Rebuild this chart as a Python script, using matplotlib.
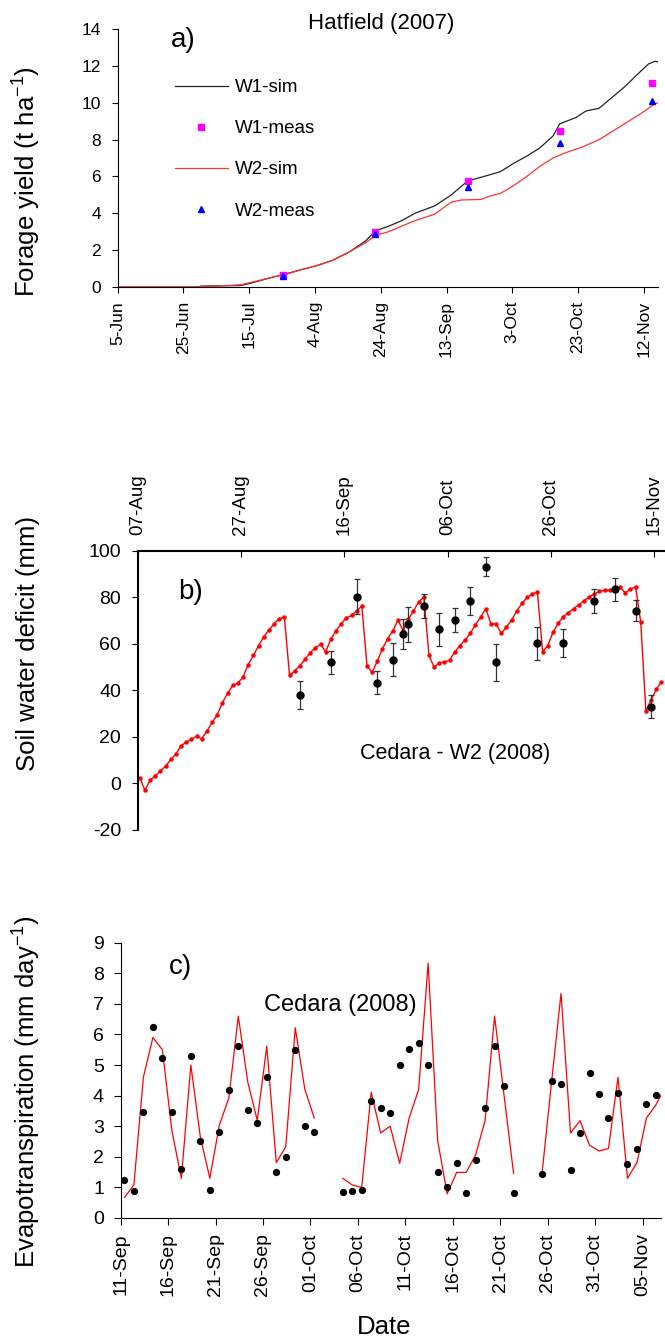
import numpy as np
import matplotlib.pyplot as plt
from matplotlib.lines import Line2D

plt.rcParams['font.family'] = ['Liberation Sans', 'DejaVu Sans']
plt.rcParams['mathtext.fontset'] = 'custom'
plt.rcParams['mathtext.rm'] = 'Liberation Sans'
plt.rcParams['axes.unicode_minus'] = False

# readings are plotted a bit after midnight of each day
DAY_OFFSET = 0.4

# a) Hatfield 2007 - days after 5 June
a_ticks = [0, 20, 40, 60, 80, 100, 120, 140, 160]
a_ticklabels = ['5-Jun', '25-Jun', '15-Jul', '4-Aug', '24-Aug', '13-Sep', '3-Oct', '23-Oct', '12-Nov']
w1_sim_day = [0, 24, 25, 37, 40, 46, 51, 55, 60, 65, 70, 75, 78, 82, 86, 90, 96, 101, 106,
              109, 113, 116, 120, 124, 128, 132, 134, 139, 142, 146, 150, 154, 158, 161, 163, 164]
w1_sim = [0, 0, 0.05, 0.08, 0.2, 0.5, 0.72, 0.92, 1.15, 1.45, 1.9, 2.5, 3.05, 3.3, 3.6, 4.0, 4.4, 4.99, 5.75,
          5.9, 6.1, 6.26, 6.71, 7.1, 7.55, 8.2, 8.85, 9.2, 9.55, 9.7, 10.3, 10.9, 11.6, 12.1, 12.25, 12.2]
w2_sim_day = [0, 24, 37, 46, 51, 55, 60, 65, 70, 75, 78, 82, 86, 90, 96, 101, 104, 110, 113, 116,
              120, 124, 128, 132, 136, 141, 146, 151, 155, 159, 163, 164]
w2_sim = [0, 0, 0.12, 0.5, 0.7, 0.92, 1.15, 1.45, 1.9, 2.4, 2.8, 3.0, 3.3, 3.6, 3.95, 4.6, 4.72, 4.75, 4.95, 5.08,
          5.5, 6.0, 6.55, 7.0, 7.3, 7.6, 8.0, 8.55, 9.0, 9.45, 9.95, 10.0]
meas_day = [50, 78, 106, 134, 162]
w1_meas = [0.65, 3.0, 5.75, 8.45, 11.05]
w2_meas = [0.6, 2.9, 5.4, 7.8, 10.1]

# b) Cedara W2 2008 soil water deficit - days after 7 Aug
b_ticks = [0, 20, 40, 60, 80, 100]
b_ticklabels = ['07-Aug', '27-Aug', '16-Sep', '06-Oct', '26-Oct', '15-Nov']
swd_sim = [2.4, -2.9, 1.4, 3.3, 5.4, 7.4, 10.3, 12.7, 16.2, 17.8,
           18.9, 20.3, 19.2, 22.5, 26.2, 29.5, 34.7, 38.7, 42.1, 43.1,
           45.8, 51.1, 55.0, 59.2, 63.0, 65.9, 68.6, 70.8, 71.5, 46.4,
           48.4, 50.6, 53.3, 56.2, 58.3, 59.7, 56.6, 62.0, 65.6, 68.6,
           71.1, 72.2, 74.2, 76.2, 50.6, 47.7, 52.6, 57.9, 62.2, 65.6,
           70.2, 65.6, 70.5, 74.2, 77.9, 80.2, 55.0, 49.9, 51.9, 52.1,
           53.0, 56.6, 59.2, 61.7, 64.5, 68.2, 71.5, 75.1, 68.6, 68.5,
           64.5, 67.2, 70.2, 74.1, 77.4, 79.9, 81.5, 82.2, 56.6, 59.2,
           64.9, 68.8, 71.6, 73.4, 75.1, 76.8, 78.5, 80.1, 81.4, 82.5,
           83.0, 83.1, 83.7, 84.2, 81.9, 83.4, 84.5, 69.3, 31.1, 35.8,
           40.4, 43.6]
swd_obs_day = [31, 37, 42, 46, 49, 51, 52, 55, 58, 61, 64, 67, 69, 77, 82, 88, 92, 96, 99]
swd_obs = [38.1, 52.1, 80.2, 43.3, 53.2, 64.2, 68.3, 76.2, 66.2, 70.2, 78.4, 93.1, 52.1, 60.2,
           60.2, 78.4, 83.4, 74.2, 33.0]
swd_err = [6, 5, 7.5, 5, 7, 6.5, 7.5, 5, 7, 5, 6, 4, 8, 7, 6, 5, 5, 4.5, 5]

# c) Cedara 2008 evapotranspiration - days after 11 Sep
c_ticks = [0, 5, 10, 15, 20, 25, 30, 35, 40, 45, 50, 55]
c_ticklabels = ['11-Sep', '16-Sep', '21-Sep', '26-Sep', '01-Oct', '06-Oct', '11-Oct', '16-Oct',
                '21-Oct', '26-Oct', '31-Oct', '05-Nov']
nan = np.nan
et_obs = [1.25, 0.87, 3.45, 6.25, 5.23, 3.45, 1.6, 5.29, 2.52, 0.9,
          2.8, 4.2, 5.63, 3.52, 3.12, 4.6, 1.5, 2.0, 5.5, 3.02,
          2.8, nan, nan, 0.85, 0.87, 0.9, 3.83, 3.61, 3.42, 5.01,
          5.51, 5.72, 5.01, 1.5, 1.0, 1.81, 0.82, 1.9, 3.61, 5.63,
          4.32, 0.82, nan, nan, 1.45, 4.48, 4.38, 1.57, 2.77, 4.73,
          4.05, 3.27, 4.08, 1.75, 2.25, 3.73, 4.02]
et_sim = [0.67, 1.08, 4.6, 5.9, 5.5, 2.86, 1.3, 5.0, 2.65, 1.3,
          3.03, 3.92, 6.6, 4.44, 3.19, 5.62, 1.81, 2.33, 6.22, 4.22,
          3.27, nan, nan, 1.3, 1.08, 1.0, 4.11, 2.78, 3.0, 1.79,
          3.27, 4.2, 8.33, 2.54, 0.79, 1.49, 1.49, 2.06, 3.19, 6.6,
          4.0, 1.46, nan, nan, 1.46, 4.44, 7.34, 2.78, 3.18, 2.38,
          2.19, 2.27, 4.6, 1.3, 1.81, 3.27, 3.7, 4.3]

W, H = 665, 1341
fig = plt.figure(figsize=(W / 100, H / 100), dpi=100)


def box(left, top, right, bottom):
    return [left / W, 1 - bottom / H, (right - left) / W, (bottom - top) / H]


def ylab(x, y, s):
    fig.text(x / W, 1 - y / H, s, rotation=90, ha='center', va='center', fontsize=18.5)


# ---- a) ----
ax = fig.add_axes(box(117.6, 29, 658, 287))
ax.plot(np.array(w1_sim_day) + DAY_OFFSET, w1_sim, color='#222222', lw=0.9)
ax.plot(np.array(w2_sim_day) + DAY_OFFSET, w2_sim, color='#ff3333', lw=0.9)
ax.plot(np.array(meas_day) + DAY_OFFSET, w1_meas, 's', color='#ff00ff', ms=5, clip_on=False)
ax.plot(np.array(meas_day) + DAY_OFFSET, w2_meas, '^', color='#0000ff', ms=5, clip_on=False)
ax.set_xlim(0, 164.3)
ax.set_ylim(0, 14)
ax.set_yticks(range(0, 15, 2))
ax.set_xticks(a_ticks)
ax.set_xticklabels(a_ticklabels, rotation=90)
for s in ['top', 'right']:
    ax.spines[s].set_visible(False)
for s in ['left', 'bottom']:
    ax.spines[s].set_linewidth(0.8)
ax.tick_params(direction='out', length=4, width=0.8, labelsize=12.5, pad=6)
ax.tick_params(axis='y', pad=8)
handles = [Line2D([], [], color='#222222', lw=0.9),
           Line2D([], [], ls='none', marker='s', color='#ff00ff', ms=4.5),
           Line2D([], [], color='#ff3333', lw=0.9),
           Line2D([], [], ls='none', marker='^', color='#0000ff', ms=4.5)]
ax.legend(handles, ['W1-sim', 'W1-meas', 'W2-sim', 'W2-meas'], loc='upper left',
          bbox_to_anchor=(175 / W, 1 - 79 / H), bbox_transform=fig.transFigure,
          frameon=False, fontsize=13.5, handlelength=2.8, handletextpad=0.4,
          labelspacing=1.28, borderpad=0, borderaxespad=0)
fig.text(381 / W, 1 - 23 / H, 'Hatfield (2007)', ha='center', va='center', fontsize=16)
fig.text(183 / W, 1 - 40 / H, 'a)', ha='center', va='center', fontsize=20)
ylab(26, 182, r'Forage yield (t ha$^{-1}$)')

# ---- b) ----
ax = fig.add_axes(box(137.7, 550.7, 665, 830))
ax.plot(np.arange(len(swd_sim)) + DAY_OFFSET, swd_sim, '-o', color='red', lw=1, ms=2.2)
ax.errorbar(np.array(swd_obs_day) + DAY_OFFSET, swd_obs, yerr=swd_err, fmt='o', color='black',
            ms=5, capsize=2.2, elinewidth=0.9, ecolor='#333333', capthick=0.9)
ax.set_xlim(0, 102.1)
ax.set_ylim(-20, 100)
ax.set_yticks(range(-20, 101, 20))
ax.xaxis.tick_top()
ax.set_xticks(b_ticks)
ax.set_xticklabels(b_ticklabels, rotation=90)
for s in ['bottom', 'right']:
    ax.spines[s].set_visible(False)
for s in ['left', 'top']:
    ax.spines[s].set_linewidth(1.5)
ax.tick_params(axis='x', direction='in', length=4, width=0.8, labelsize=13.5, pad=11)
ax.tick_params(axis='y', direction='out', length=4, width=0.8, labelsize=14, pad=8)
fig.text(191 / W, 1 - 592 / H, 'b)', ha='center', va='center', fontsize=20)
fig.text(455 / W, 1 - 753 / H, 'Cedara - W2 (2008)', ha='center', va='center', fontsize=15.5)
ylab(27.7, 643, 'Soil water deficit (mm)')

# ---- c) ----
ax = fig.add_axes(box(120.6, 942.7, 660.7, 1218))
ax.plot(np.arange(len(et_sim)) + DAY_OFFSET, et_sim, color='red', lw=0.9)
ax.plot(np.arange(len(et_obs)) + DAY_OFFSET, et_obs, 'o', color='black', ms=4.2)
ax.set_xlim(0, 56.9)
ax.set_ylim(0, 9)
ax.set_yticks(range(0, 10))
ax.set_xticks(c_ticks)
ax.set_xticklabels(c_ticklabels, rotation=90)
for s in ['top', 'right']:
    ax.spines[s].set_visible(False)
ax.tick_params(direction='out', length=5, width=0.8, labelsize=14, pad=6)
ax.tick_params(axis='y', pad=7)
fig.text(180 / W, 1 - 967 / H, 'c)', ha='center', va='center', fontsize=20)
fig.text(340 / W, 1 - 1005 / H, 'Cedara (2008)', ha='center', va='center', fontsize=17)
ylab(25.6, 1092, r'Evapotranspiration (mm day$^{-1}$)')
fig.text(384 / W, 1 - 1327 / H, 'Date', ha='center', va='center', fontsize=18.5)

fig.savefig('out.png', dpi=100)
